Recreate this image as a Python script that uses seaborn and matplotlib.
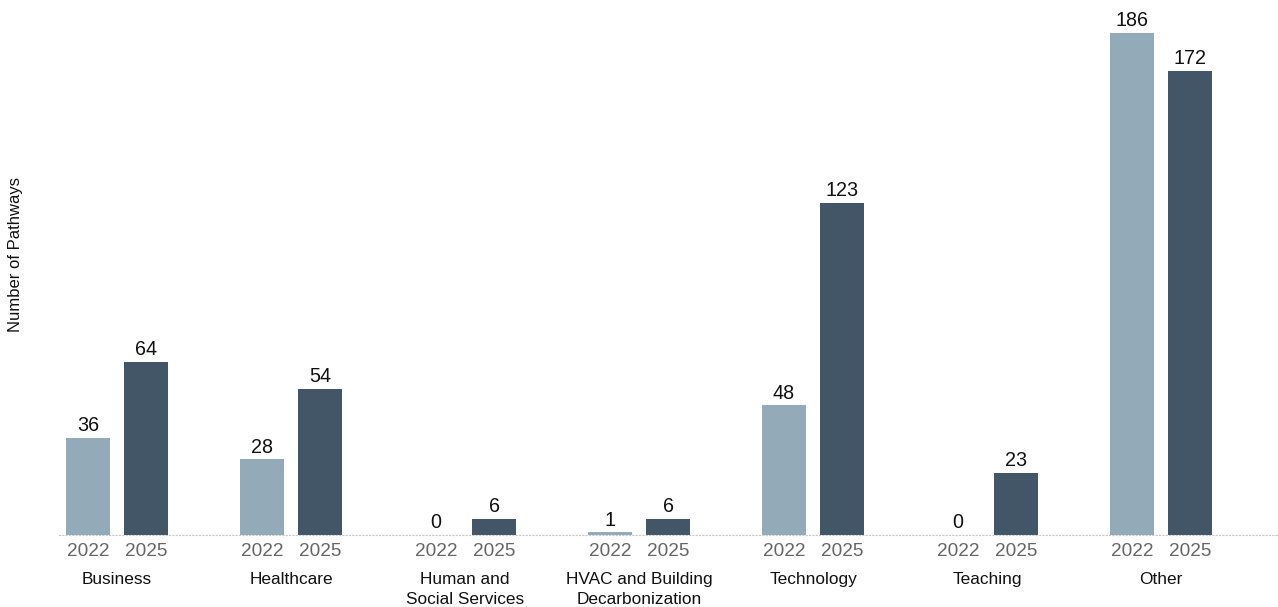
import matplotlib
matplotlib.use("Agg")
import matplotlib.pyplot as plt
import seaborn as sns
import pandas as pd

categories = ["Business", "Healthcare", "Human and\nSocial Services",
              "HVAC and Building\nDecarbonization", "Technology", "Teaching", "Other"]
years = ["2022", "2025"]
values_2022 = [36, 28, 0, 1, 48, 0, 186]
values_2025 = [64, 54, 6, 6, 123, 23, 172]
y_label = "Number of Pathways"
colors = {"2022": "#93aab9", "2025": "#435667"}

sns.set_theme(style="white")
plt.rcParams["font.family"] = ["Liberation Sans", "DejaVu Sans"]

rows = []
for ci, cat in enumerate(categories):
    for yi, (yr, vals) in enumerate(zip(years, [values_2022, values_2025])):
        rows.append({"category": cat, "year": yr, "pos": ci * 3 + yi, "value": vals[ci]})
df = pd.DataFrame(rows)

W, H = 1278, 607
fig = plt.figure(figsize=(W / 100, H / 100), dpi=100)
ax = fig.add_axes([59 / W, 1 - 535 / H, 1218 / W, 535 / H])

sns.barplot(data=df, x="pos", y="value", hue="year", palette=colors,
            native_scale=True, dodge=False, width=0.76, legend=False, ax=ax,
            saturation=1, linewidth=0)

for cont in ax.containers:
    ax.bar_label(cont, fmt="%d", padding=2, fontsize=14.2, color="#111111")

ax.set_xlim(-0.5, 20.5)
ax.set_ylim(0, 535 / 2.70)
for s in ["top", "right", "left"]:
    ax.spines[s].set_visible(False)
ax.spines["bottom"].set_color("#c8c8c8")
ax.spines["bottom"].set_linestyle((0, (1, 2)))
ax.spines["bottom"].set_linewidth(0.8)
ax.set_yticks([])
ax.set_ylabel("")
ax.set_xlabel("")

ax.set_xticks(df["pos"].tolist())
ax.set_xticklabels(df["year"].tolist(), fontsize=13.7, color="#666666")
ax.tick_params(axis="x", length=0, pad=6)
bounds = [k - 0.5 for k in range(22)]
ax.set_xticks(bounds, minor=True)
ax.tick_params(axis="x", which="minor", length=6, color="#e2e2e2", width=0.8)

for ci, cat in enumerate(categories):
    ax.text(ci * 3 + 0.5, -37 / 2.70, cat, ha="center", va="top",
            fontsize=12.4, color="#111111", linespacing=1.45,
            transform=ax.transData, clip_on=False)

fig.text(16 / W, 1 - 255 / H, y_label, rotation=90, ha="center", va="center",
         fontsize=12, color="#111111")

fig.savefig("out.png", dpi=100)
